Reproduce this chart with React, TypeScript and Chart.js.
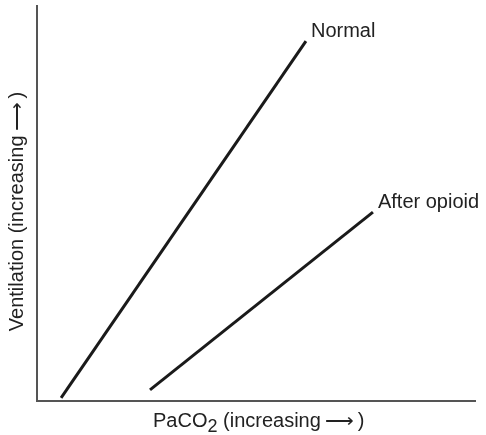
import React, { useEffect, useRef } from "react";
import { Chart, registerables } from "chart.js";

Chart.register(...registerables);

const seriesNames = ["Normal", "After opioid"];
const normalX = [5.5, 61.4];
const normalY = [0.8, 91.1];
const opioidX = [25.8, 76.7];
const opioidY = [2.8, 47.8];
const xTitleMain = "PaCO";
const xTitleSub = "2";
const xTitleRest = " (increasing\u2009\u27F6\u2009)";
const yTitle = "Ventilation (increasing\u2009\u27F6\u2009)";

const FONT = '"Liberation Sans", Arial, Helvetica, sans-serif';

const textPlugin = {
  id: "textPlugin",
  afterDraw(chart: any) {
    const ctx = chart.ctx;
    const area = chart.chartArea;
    ctx.save();
    ctx.fillStyle = "#222";
    ctx.font = `20px ${FONT}`;
    ctx.textBaseline = "alphabetic";
    ctx.textAlign = "left";
    chart.data.datasets.forEach((ds: any, i: number) => {
      const meta = chart.getDatasetMeta(i);
      const pt = meta.data[meta.data.length - 1];
      ctx.fillText(ds.label, pt.x + 5, pt.y - 4);
    });
    // x title
    const baseY = 427;
    const x0 = 153;
    ctx.font = `20px ${FONT}`;
    ctx.fillText(xTitleMain, x0, baseY);
    let x = x0 + ctx.measureText(xTitleMain).width;
    ctx.font = `18px ${FONT}`;
    ctx.fillText(xTitleSub, x, baseY + 5);
    x += ctx.measureText(xTitleSub).width;
    ctx.font = `20px ${FONT}`;
    ctx.fillText(xTitleRest, x, baseY);
    // y title
    ctx.save();
    ctx.translate(23, (area.top + area.bottom) / 2 + 8);
    ctx.rotate(-Math.PI / 2);
    ctx.textAlign = "center";
    ctx.fillText(yTitle, 0, 0);
    ctx.restore();
    ctx.restore();
  },
};

export default function App() {
  const ref = useRef<HTMLCanvasElement | null>(null);
  useEffect(() => {
    if (!ref.current) return;
    const mk = (xs: number[], ys: number[]) => xs.map((v, i) => ({ x: v, y: ys[i] }));
    const chart = new Chart(ref.current, {
      type: "line",
      data: {
        datasets: [
          {
            label: seriesNames[0],
            data: mk(normalX, normalY),
            borderColor: "#1a1a1a",
            borderWidth: 3,
            pointRadius: 0,
            borderCapStyle: "butt",
          },
          {
            label: seriesNames[1],
            data: mk(opioidX, opioidY),
            borderColor: "#1a1a1a",
            borderWidth: 3,
            pointRadius: 0,
            borderCapStyle: "butt",
          },
        ],
      },
      options: {
        responsive: false,
        animation: false,
        devicePixelRatio: 1,
        layout: { padding: { left: 37, top: 6, right: 11, bottom: 34 } },
        plugins: { legend: { display: false }, tooltip: { enabled: false } },
        scales: {
          x: {
            type: "linear",
            min: 0,
            max: 100,
            ticks: { display: false },
            grid: { display: false, drawTicks: false },
            border: { display: true, color: "#555", width: 2 },
          },
          y: {
            type: "linear",
            min: 0,
            max: 100,
            ticks: { display: false },
            grid: { display: false, drawTicks: false },
            border: { display: true, color: "#555", width: 2 },
          },
        },
      },
      plugins: [textPlugin],
    } as any);
    return () => chart.destroy();
  }, []);
  return (
    <div style={{ position: "fixed", left: 0, top: 0, width: 486, height: 435, background: "#fff" }}>
      <canvas ref={ref} width={486} height={435} />
    </div>
  );
}
